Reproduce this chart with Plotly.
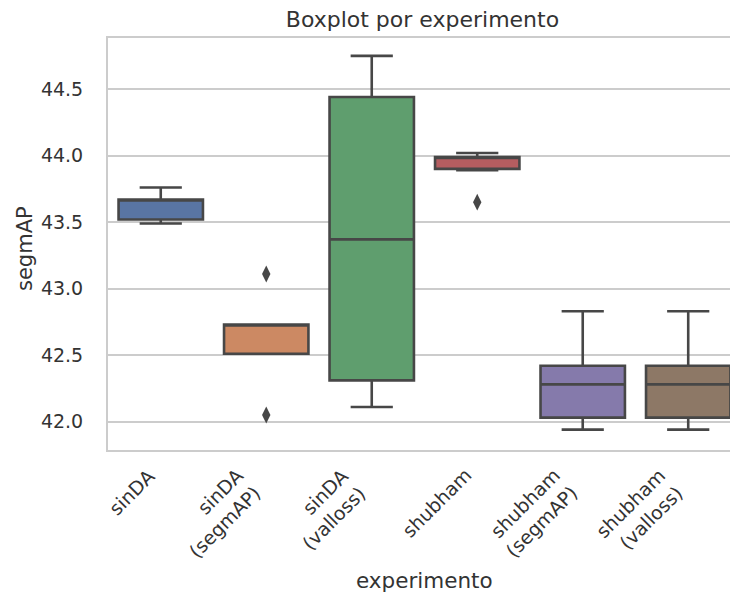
import plotly.graph_objects as go

# Experiment names and their box statistics (segmAP)
experiments = ["sinDA", "sinDA (segmAP)", "sinDA (valloss)",
               "shubham", "shubham (segmAP)", "shubham (valloss)"]
tick_labels = ["sinDA", "sinDA<br>(segmAP)", "sinDA<br>(valloss)",
               "shubham", "shubham<br>(segmAP)", "shubham<br>(valloss)"]
lower_whisker = [43.49, 42.51, 42.11, 43.89, 41.94, 41.94]
q1_values     = [43.52, 42.51, 42.31, 43.90, 42.03, 42.03]
median_values = [43.67, 42.73, 43.37, 43.99, 42.28, 42.28]
q3_values     = [43.67, 42.73, 44.44, 43.99, 42.42, 42.42]
upper_whisker = [43.76, 42.73, 44.75, 44.02, 42.83, 42.83]

# Points beyond the whiskers
outlier_experiment = ["sinDA (segmAP)", "sinDA (segmAP)", "shubham"]
outlier_values = [43.11, 42.05, 43.65]

box_colors = ["#5975A4", "#CC8963", "#5F9E6E", "#B55D60", "#857AAB", "#8D7866"]
edge_color = "#474747"
text_color = "#333333"
font_family = "DejaVu Sans"

fig = go.Figure()

for i, name in enumerate(experiments):
    fig.add_trace(go.Box(
        x=[name],
        q1=[q1_values[i]],
        median=[median_values[i]],
        q3=[q3_values[i]],
        lowerfence=[lower_whisker[i]],
        upperfence=[upper_whisker[i]],
        width=0.8,
        whiskerwidth=0.5,
        fillcolor=box_colors[i],
        line=dict(color=edge_color, width=2.6),
        boxpoints=False,
        showlegend=False,
        hoverinfo="y",
    ))

fig.add_trace(go.Scatter(
    x=outlier_experiment,
    y=outlier_values,
    mode="markers",
    marker=dict(symbol="diamond-tall", size=12, color=edge_color,
                line=dict(width=0)),
    showlegend=False,
))

# Rotated, right-aligned category labels anchored at each category position
label_annotations = [
    dict(text=lbl, xref="x", yref="paper", x=name, y=-0.028,
         xanchor="right", yanchor="top", align="right",
         textangle=-45, showarrow=False, xshift=1,
         font=dict(size=19, color=text_color))
    for name, lbl in zip(experiments, tick_labels)
]

fig.update_layout(
    width=730,
    height=595,
    margin=dict(l=108, r=0, t=38, b=145),
    paper_bgcolor="white",
    plot_bgcolor="white",
    boxmode="overlay",
    font=dict(family=font_family, color=text_color, size=19),
    title=dict(
        text="Boxplot por experimento",
        font=dict(size=22, color=text_color),
        xref="paper", x=0.5056, xanchor="center",
        yref="container", y=1 - 19 / 595, yanchor="middle",
    ),
    xaxis=dict(
        type="category",
        categoryorder="array",
        categoryarray=experiments,
        range=[-0.5, 5.396],
        showgrid=False,
        showline=True,
        linecolor="#cccccc",
        linewidth=2,
        mirror=True,
        ticks="",
        showticklabels=False,
        zeroline=False,
    ),
    yaxis=dict(
        range=[41.787, 44.884],
        tickvals=[42.0, 42.5, 43.0, 43.5, 44.0, 44.5],
        ticktext=["42.0", "42.5", "43.0", "43.5", "44.0", "44.5"],
        showgrid=True,
        gridcolor="#cccccc",
        gridwidth=1.6,
        showline=True,
        linecolor="#cccccc",
        linewidth=2,
        mirror=False,
        ticks="",
        ticklabelstandoff=19,
        tickfont=dict(size=19, color=text_color),
        zeroline=False,
    ),
    annotations=label_annotations + [
        dict(text="experimento", xref="paper", yref="paper",
             x=(424 - 108) / 622, y=(450 - 580) / 412,
             xanchor="center", yanchor="middle", showarrow=False,
             font=dict(size=21.5, color=text_color)),
        dict(text="segmAP", xref="paper", yref="paper",
             x=(25 - 108) / 622, y=(450 - 249) / 412,
             xanchor="center", yanchor="middle", showarrow=False,
             textangle=-90,
             font=dict(size=21, color=text_color)),
    ],
)

fig.write_html("out.html")
